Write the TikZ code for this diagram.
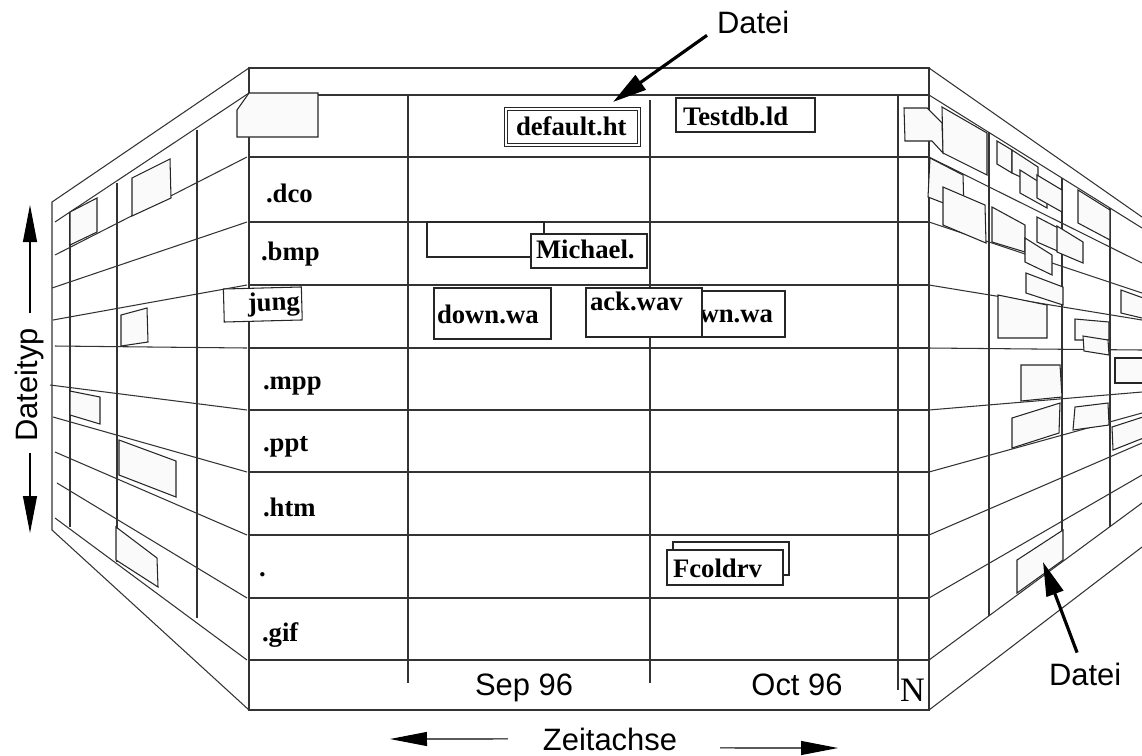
\documentclass[tikz,border=0pt]{standalone}
\usepackage{fontspec}
\setmainfont{Liberation Serif}
\newfontfamily\axisfont{Liberation Sans}
\usetikzlibrary{arrows.meta}
\tikzset{every node/.style={inner sep=0pt,outer sep=0pt},
 wallline/.style={draw=black!80,line width=.6pt},
 sheet/.style={draw=black!85,fill=black!2,line width=.6pt},
 ftype/.style={font=\bfseries\fontsize{15.2}{17}\selectfont,anchor=base west},
 filebox/.style={draw=black!85,fill=white,line width=.6pt,font=\bfseries\fontsize{15.2}{17}\selectfont,
  anchor=base west,inner ysep=0pt,inner xsep=.12cm,align=left},
 axlabel/.style={font=\axisfont\fontsize{17.6}{20}\selectfont},
 axarrow/.style={-{Triangle[length=.74cm,width=.28cm]},line width=.6pt},
 pointer/.style={-{Triangle[length=.68cm,width=.35cm]},line width=1.8pt}}
\begin{document}
\begin{tikzpicture}[x=.02cm,y=-.02cm]
\useasboundingbox (0,0) rectangle (1142,755);
\clip (0,0) rectangle (1142,755);

% front wall
\draw[wallline] (249,68) rectangle (929,710);
\foreach \y in {95,157,222,285,348,410,472,535,598,660}
 \draw[wallline] (249,\y) -- (929,\y);
\foreach \x/\ya/\yb in {408/95/683,650/100/683,898/95/690}
 \draw[wallline] (\x,\ya) -- (\x,\yb);

% left wall
\draw[wallline] (249,68) -- (52,202) -- (52,530) -- (249,710);
\draw[wallline] (249,93) -- (55,222);
\foreach \y/\yy/\xx in {157/255/55,222/288/52,285/320/53,348/346/55,410/385/50,
  472/417/53,535/452/55,598/483/57,660/518/55}
 \draw[wallline] (247,\y) -- (\xx,\yy);
\foreach \x/\ya/\yb in {70/212/527,117/183/562,197/130/618}
 \draw[wallline] (\x,\ya) -- (\x,\yb);

% right wall
\draw[wallline] (929,68) -- (1142,217);
\draw[wallline] (929,710) -- (1142,547);
\foreach \y/\yy in {95/228,157/263,222/293,285/320,348/350,410/392,472/413,
  535/443,598/475,660/503}
 \draw[wallline] (929,\y) -- (1142,\yy);
\foreach \x/\ya/\yb in {989/132/616,1062/178/560,1110/208/527}
 \draw[wallline] (\x,\ya) -- (\x,\yb);

% sheets on the side walls
\draw[sheet] (249,93) -- (318,93) -- (318,137) -- (237,137) -- (237,110) -- cycle;
\draw[sheet] (904,108) -- (927,108) -- (942,123) -- (943,153) -- (932,141) -- (905,141) -- cycle;
\foreach \ax/\ay/\bx/\by/\cx/\cy/\dx/\dy in {
  70/212/97/198/97/232/70/245, 132/178/170/159/171/198/132/216,
  121/315/147/308/148/342/121/346, 70/391/100/397/100/424/70/415,
  119/440/176/461/176/497/119/475, 116/527/157/558/158/587/116/560,
  942/107/987/133/987/175/943/153, 930/158/963/175/964/211/928/197,
  943/187/985/205/986/243/943/225, 997/141/1012/150/1012/173/997/164,
  1012/150/1038/167/1038/185/1012/173, 1020/170/1047/187/1047/208/1020/193,
  1037/175/1062/190/1062/212/1037/198, 1078/190/1110/210/1110/240/1078/223,
  992/207/1025/225/1025/252/992/242, 1025/238/1052/255/1052/275/1025/262,
  1037/217/1062/230/1062/253/1037/242, 1057/226/1083/242/1083/263/1057/252,
  1026/273/1063/287/1063/305/1026/293, 1121/290/1146/299/1146/319/1121/313,
  998/295/1047/305/1047/338/998/338, 1075/319/1109/322/1109/340/1075/340,
  1083/336/1108/340/1109/355/1084/351, 1021/365/1060/365/1062/397/1021/401,
  1115/358/1146/358/1146/383/1115/383, 1012/418/1060/403/1059/433/1012/448,
  1075/407/1108/403/1109/425/1073/430, 1112/427/1146/416/1146/437/1113/450,
  1017/560/1063/530/1063/560/1017/593}
 \draw[sheet] (\ax,\ay) -- (\bx,\by) -- (\cx,\cy) -- (\dx,\dy) -- cycle;

% files on the front wall
\node[filebox,double,double distance=1.4pt,inner xsep=.2cm,text width=2.26cm,
 text height=.52cm,text depth=.2cm] (deflt) at (506,135) {default.ht};
\node[filebox,inner xsep=.14cm,text width=2.5cm,text height=.54cm,text depth=.14cm]
 (testdb) at (676,125) {Testdb.ld};
\draw[sheet,fill=white] (427,222) rectangle (544,257);
\node[filebox,inner xsep=.1cm,text width=2.12cm,text height=.48cm,text depth=.2cm]
 (michael) at (531,258) {Michael.};
\node[filebox,inner xsep=.06cm,text width=2.22cm,text height=.7cm,text depth=.32cm]
 (downwa) at (434,323) {down.wa};
\node[filebox,inner xsep=.24cm,text width=2.02cm,align=right,text height=.62cm,text depth=.3cm]
 (wnwa) at (660,322) {wn.wa};
\node[filebox,inner xsep=.08cm,text width=2.16cm,text height=.44cm,text depth=.54cm]
 (ackwav) at (586,310) {ack.wav};
\node[filebox,rotate=1.5,inner xsep=.04cm,text width=1.48cm,align=right,text height=.46cm,
 text depth=.2cm] (jung) at (224,312) {jung};
\draw[sheet,fill=white] (673,542) rectangle (789,575);
\node[filebox,text width=2.08cm,text height=.54cm,text depth=.16cm] (fcold) at (667,577) {Fcoldrv};

% file types
\node[ftype] (tdco) at (266,202) {.dco};
\node[ftype] (tbmp) at (261,260) {.bmp};
\node[ftype] (tmpp) at (263,389) {.mpp};
\node[ftype] (tppt) at (263,451) {.ppt};
\node[ftype] (thtm) at (263,516) {.htm};
\node[ftype] (tdot) at (259,576) {.};
\node[ftype] (tgif) at (262,641) {.gif};

% axes
\node[axlabel,anchor=base] (sep) at (524,695) {Sep 96};
\node[axlabel,anchor=base] (oct) at (797,695) {Oct 96};
\node[font=\fontsize{19.5}{22}\selectfont,anchor=base west] (nlab) at (900,701) {N};
\node[axlabel,anchor=base] (zeit) at (610,750) {Zeitachse};
\node[axlabel,rotate=90] (dtyp) at (30,385) {Dateityp};
\coordinate (uptip) at (30,205);
\coordinate (dntip) at (30,533);
\coordinate (ltip) at (390,739);
\coordinate (rtip) at (838,748);
\draw[axarrow,shorten <=.3cm] (dtyp.east) -- (uptip);
\draw[axarrow,shorten <=.22cm] (dtyp.west) -- (dntip);
\draw[axarrow] (zeit.west) ++(-35,0) -- (ltip);
\draw[axarrow] (zeit.east) ++(43,9) -- (rtip);

% pointers
\node[axlabel,anchor=base west] (dateiA) at (717,33) {Datei};
\node[axlabel,anchor=base west] (dateiB) at (1049,685) {Datei};
\coordinate (ptopA) at (613,102);
\coordinate (ptopB) at (1043,562);
\draw[pointer] (dateiA.south west) ++(-10,2) -- (ptopA);
\draw[pointer] (dateiB.north) ++(-8,-10) -- (ptopB);

\end{tikzpicture}
\end{document}
